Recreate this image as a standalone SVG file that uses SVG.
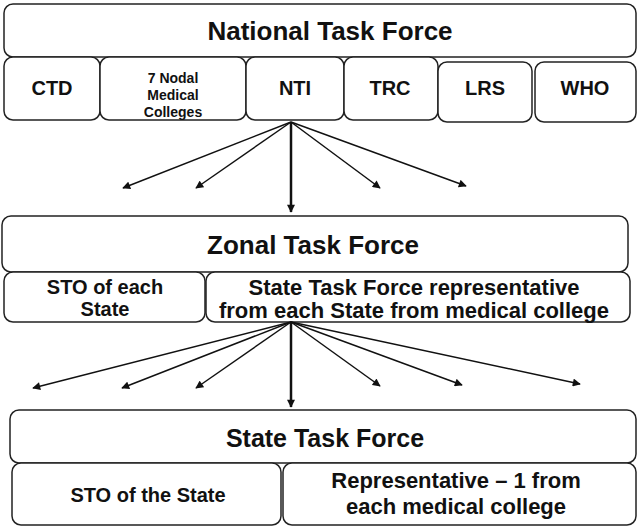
<svg xmlns="http://www.w3.org/2000/svg" width="640" height="529" viewBox="0 0 640 529">
<style>
rect{fill:#fff;stroke:#222;stroke-width:1.5}
text{font-family:"Liberation Sans",Arial,sans-serif;font-weight:bold;fill:#111;text-anchor:middle}
.big{font-size:26px}.med{font-size:20px}.lg{font-size:22px}.sm{font-size:14px}
.c line{stroke:#111;stroke-width:1.5;marker-end:url(#a)}
.c line.t{stroke-width:2.5}
</style>
<defs><marker id="a" viewBox="0 0 10 10" refX="9" refY="5" markerWidth="9" markerHeight="8" orient="auto" markerUnits="userSpaceOnUse"><path d="M0,0L10,5L0,10z" fill="#111"/></marker></defs>
<g id="ntf"><rect x="4" y="4" width="632" height="53" rx="9"/><text class="big" x="330" y="40">National Task Force</text></g>
<g id="ctd"><rect x="4" y="57" width="96" height="63" rx="9"/><text class="med" x="52" y="95">CTD</text></g>
<g id="nodal"><rect x="100" y="57" width="146" height="63" rx="9"/><text class="sm" x="173" y="83">7 Nodal</text><text class="sm" x="173" y="100">Medical</text><text class="sm" x="173" y="117">Colleges</text></g>
<g id="nti"><rect x="246" y="57" width="98" height="63" rx="9"/><text class="med" x="295" y="95">NTI</text></g>
<g id="trc"><rect x="344" y="57" width="94" height="63" rx="9"/><text class="med" x="390" y="95">TRC</text></g>
<g id="lrs"><rect x="438" y="62" width="94" height="60" rx="9"/><text class="med" x="485" y="95">LRS</text></g>
<g id="who"><rect x="535" y="62" width="101" height="60" rx="9"/><text class="med" x="585" y="95">WHO</text></g>
<g id="ztf"><rect x="2" y="216" width="626" height="56" rx="9"/><text class="big" x="313" y="254">Zonal Task Force</text></g>
<g id="sto1"><rect x="4" y="272" width="201" height="50" rx="9"/><text class="med" x="105" y="294">STO of each</text><text class="med" x="105" y="316">State</text></g>
<g id="strep"><rect x="206" y="272" width="424" height="50" rx="9"/><text class="lg" x="414" y="295">State Task Force representative</text><text class="lg" x="414" y="318">from each State from medical  college</text></g>
<g id="stf"><rect x="10" y="410" width="626" height="53" rx="9"/><text class="lg" x="325" y="447" style="font-size:25px">State Task Force</text></g>
<g id="sto2"><rect x="12" y="463" width="269" height="62" rx="9"/><text class="med" x="148" y="502">STO of the State</text></g>
<g id="rep"><rect x="283" y="463" width="353" height="62" rx="9"/><text class="lg" x="456" y="488">Representative – 1 from</text><text class="lg" x="456" y="514">each medical  college</text></g>
<g class="c">
<line x1="291" y1="122" x2="123" y2="188"/><line x1="291" y1="122" x2="196" y2="188"/><line class="t" x1="291" y1="122" x2="291" y2="212"/><line x1="291" y1="122" x2="380" y2="188"/><line x1="291" y1="122" x2="466" y2="186"/>
<line x1="291" y1="322" x2="33" y2="388"/><line x1="291" y1="322" x2="122" y2="388"/><line x1="291" y1="322" x2="196" y2="388"/><line class="t" x1="291" y1="322" x2="291" y2="407"/><line x1="291" y1="322" x2="380" y2="386"/><line x1="291" y1="322" x2="462" y2="385"/><line x1="291" y1="322" x2="580" y2="384"/>
</g>
</svg>
